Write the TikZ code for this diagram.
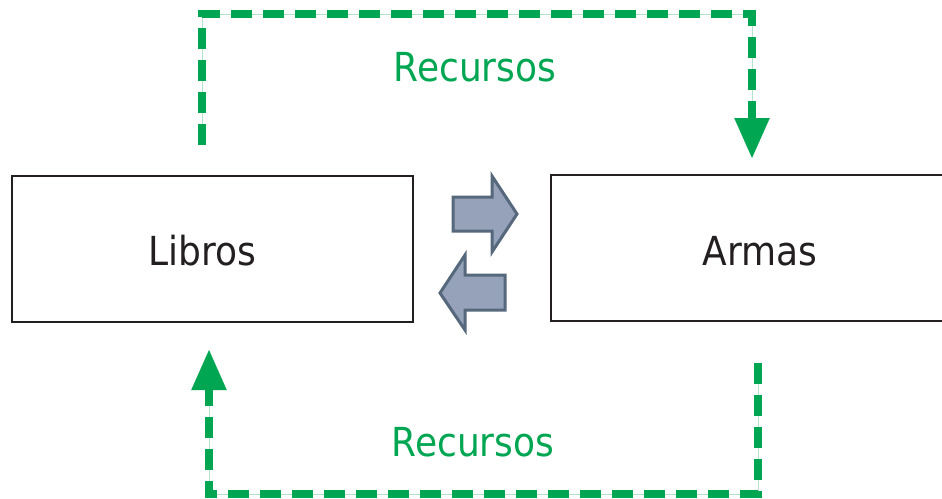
\documentclass[tikz,border=0pt]{standalone}
\usepackage{fontspec}
\setmainfont{DejaVu Sans}[FakeStretch=0.9]
\usetikzlibrary{arrows.meta}
\definecolor{rgreen}{HTML}{00A651}
\definecolor{rgreenl}{HTML}{B5E3C8}
\definecolor{bfill}{HTML}{96A2B9}
\definecolor{bdraw}{HTML}{56687B}
\definecolor{bxline}{HTML}{231F20}
\begin{document}
\begin{tikzpicture}[x=1pt,y=-1pt,
 box/.style={draw=bxline, line width=2.5pt, inner sep=0pt},
 lbl/.style={font=\fontsize{40}{44}\selectfont, text=bxline, anchor=base, inner sep=0pt},
 glbl/.style={lbl, text=rgreen},
 flow/.style={draw=rgreen, line width=8.5pt, line join=miter, dash pattern=on 21pt off 11pt, -{Triangle[length=41pt,width=33pt]}},
 guide/.style={draw=rgreenl, line width=1pt},
 blk/.style={fill=bfill, draw=bdraw, line width=3pt, line join=miter}]
\useasboundingbox (0,0) rectangle (942,498);
\node[box, minimum width=401pt, minimum height=146pt] (libros) at (212.5,249) {};
\node[box, minimum width=418pt, minimum height=146pt] (armas) at (760,248) {};
\node[lbl] (tlibros) at (202.5,265) {Libros};
\node[lbl] (tarmas) at (760,265) {Armas};
\node[glbl] (rtop) at (475,81) {Recursos};
\node[glbl] (rbot) at (473,456) {Recursos};
% top connector
\coordinate (ts) at (202,145);
\coordinate (tc1) at (202,14);
\coordinate (tc2) at (752,14);
\coordinate (te) at (752,159);
\draw[guide] (ts) -- (tc1) -- (tc2) -- (752,120);
\draw[flow] (ts) -- (tc1) -- (tc2) -- (te);
% bottom connector
\coordinate (bs) at (758,363);
\coordinate (bc1) at (758,494);
\coordinate (bc2) at (209,494);
\coordinate (be) at (209,349);
\draw[guide] (bs) -- (bc1) -- (bc2) -- (209,388);
\draw[flow] (bs) -- (bc1) -- (bc2) -- (be);
% block arrows
\draw[blk] (453,197) -- (492,197) -- (492,176) -- (517,214) -- (492,252) -- (492,231) -- (453,231) -- cycle;
\draw[blk] (505,275) -- (465,275) -- (465,255) -- (440,293) -- (465,330) -- (465,310) -- (505,310) -- cycle;
\end{tikzpicture}
\end{document}
